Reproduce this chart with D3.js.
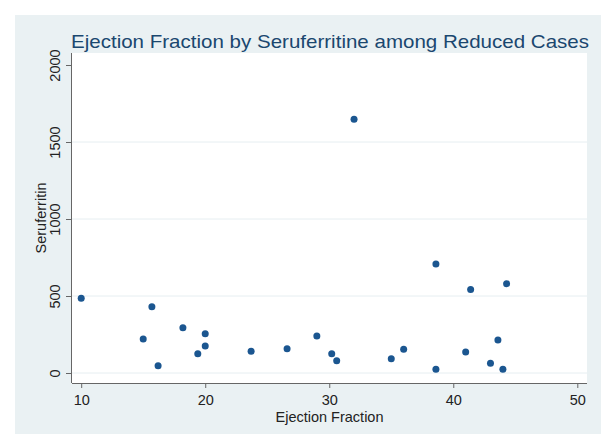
<!DOCTYPE html>
<html>
<head>
<meta charset="utf-8">
<script src="https://cdn.jsdelivr.net/npm/d3@7"></script>
<style>
  body { margin: 0; background: #fff; }
  svg text { font-family: "Liberation Sans", Arial, sans-serif; }
</style>
</head>
<body>
<div id="chart-area"></div>
<script>
// values
const ejectionFraction = [10, 15.7, 15, 18.2, 20, 20, 19.4, 16.2, 23.7, 26.6, 29, 30.2, 30.6, 32,
    38.6, 41.4, 44.3, 35, 36, 38.6, 41, 43.6, 43, 44];
const seruferritin = [485, 430, 221, 294, 255, 175, 125, 47, 141, 158, 240, 125, 80, 1647,
    708, 543, 580, 93, 154, 24, 136, 214, 63, 24];
const xTicks = [10, 20, 30, 40, 50];
const yTicks = [0, 500, 1000, 1500, 2000];
const gridTicks = [0, 500, 1000, 1500];

const width = 605;
const height = 434;

// plot region (white) inside the grey graph region
const plot = { left: 72, right: 587, top: 53, bottom: 383 };

const titleColor = '#1a476f';
const markerColor = '#1b5690';

const svg = d3.select('#chart-area').append('svg')
    .attr('width', width)
    .attr('height', height);

// graph region background
svg.append('rect')
    .attr('x', 15).attr('y', 15)
    .attr('width', 586).attr('height', height - 15)
    .attr('fill', '#eaf1f3');

// plot region
svg.append('rect')
    .attr('x', plot.left).attr('y', plot.top)
    .attr('width', plot.right - plot.left).attr('height', plot.bottom - plot.top)
    .attr('fill', '#fff');

const x = d3.scaleLinear().domain([10, 50]).range([81.2, 577.3]);
const y = d3.scaleLinear().domain([0, 2000]).range([373, 65]);

// horizontal gridlines
svg.append('g')
    .selectAll('line')
    .data(gridTicks)
    .enter().append('line')
    .attr('x1', plot.left).attr('x2', plot.right)
    .attr('y1', d => y(d)).attr('y2', d => y(d))
    .attr('stroke', '#e6eef1')
    .attr('stroke-width', 1);

// x axis
const xAxisGroup = svg.append('g')
    .attr('transform', `translate(0, ${plot.bottom})`)
    .call(d3.axisBottom(x).tickValues(xTicks).tickFormat(d3.format('d')).tickSize(5).tickSizeOuter(0));
xAxisGroup.select('.domain')
    .attr('d', `M${plot.left},0.5H${plot.right}`)
    .attr('stroke', '#666');
xAxisGroup.selectAll('.tick line').attr('stroke', '#666');
xAxisGroup.selectAll('.tick text')
    .attr('y', 22).attr('dy', 0)
    .attr('font-size', '14.5px')
    .attr('fill', '#222');

// y axis
const yAxisGroup = svg.append('g')
    .attr('transform', `translate(${plot.left}, 0)`)
    .call(d3.axisLeft(y).tickValues(yTicks).tickFormat(d3.format('d')).tickSize(6).tickSizeOuter(0));
yAxisGroup.select('.domain')
    .attr('d', `M-0.5,${plot.top}V${plot.bottom}`)
    .attr('stroke', '#666');
yAxisGroup.selectAll('.tick line').attr('stroke', '#666');
yAxisGroup.selectAll('.tick text')
    .attr('x', null).attr('dy', null)
    .attr('transform', 'translate(-12, 0) rotate(-90)')
    .attr('text-anchor', 'middle')
    .attr('font-size', '14.5px')
    .attr('fill', '#222');

// markers
svg.append('g')
    .selectAll('circle')
    .data(ejectionFraction)
    .enter().append('circle')
    .attr('cx', d => x(d))
    .attr('cy', (d, i) => y(seruferritin[i]))
    .attr('r', 3.5)
    .attr('fill', markerColor);

// title
svg.append('text')
    .attr('x', 71).attr('y', 48)
    .attr('font-size', '19px')
    .attr('fill', titleColor)
    .attr('textLength', 518)
    .attr('lengthAdjust', 'spacingAndGlyphs')
    .text('Ejection Fraction by Seruferritine among Reduced Cases');

// axis titles
svg.append('text')
    .attr('x', (plot.left + plot.right) / 2).attr('y', 422)
    .attr('text-anchor', 'middle')
    .attr('font-size', '14.5px')
    .attr('fill', '#222')
    .text('Ejection Fraction');

svg.append('text')
    .attr('transform', `translate(45.5, ${(plot.top + plot.bottom) / 2}) rotate(-90)`)
    .attr('text-anchor', 'middle')
    .attr('font-size', '14.5px')
    .attr('fill', '#222')
    .text('Seruferritin');
</script>
</body>
</html>
